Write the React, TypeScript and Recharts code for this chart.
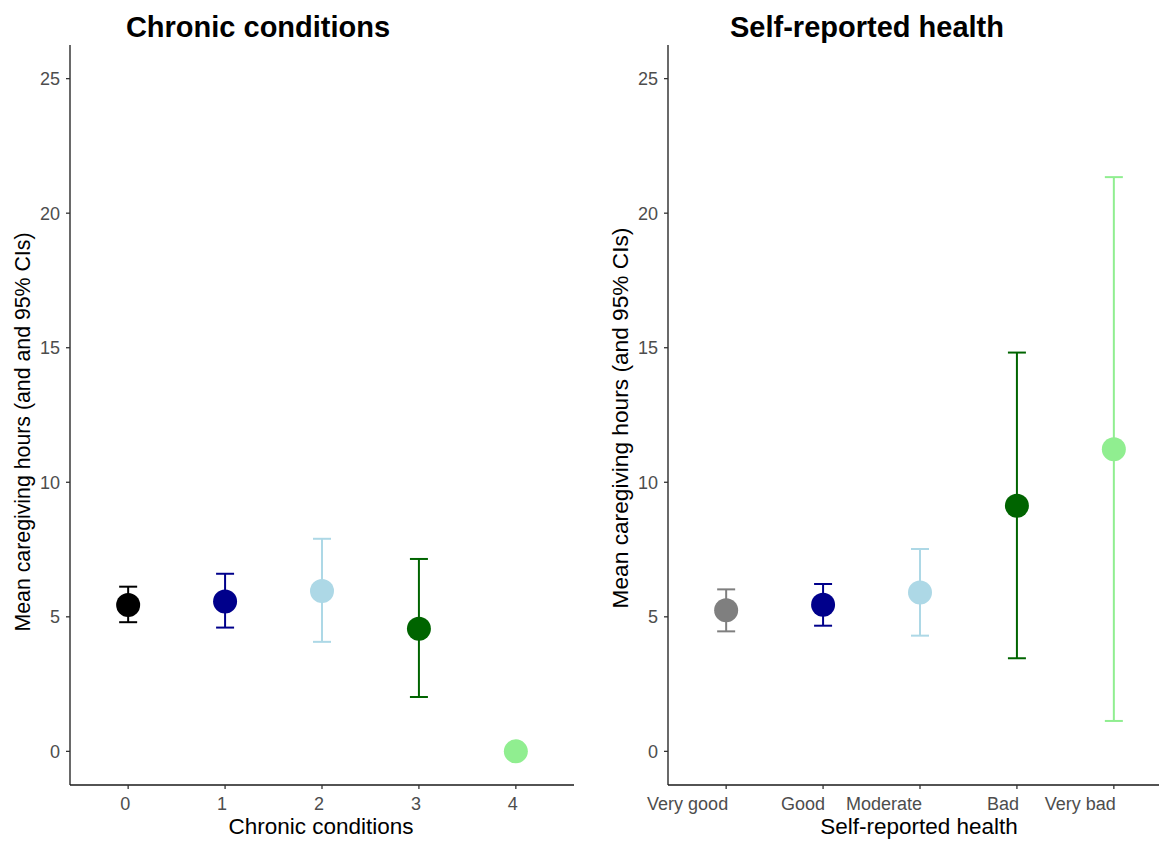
import React from 'react';
import { ScatterChart, Scatter, XAxis, YAxis, ErrorBar } from 'recharts';

const FONT = '"Liberation Sans", Arial, Helvetica, sans-serif';

// Left panel: chronic conditions
const chronicCategories = ['0', '1', '2', '3', '4'];
const chronicMeans = [5.44, 5.57, 5.96, 4.56, 0];
const chronicLower = [4.8, 4.6, 4.07, 2.02, 0];
const chronicUpper = [6.12, 6.6, 7.9, 7.15, 0];
const chronicColors = ['#000000', '#00008B', '#ADD8E6', '#006400', '#90EE90'];

// Right panel: self-reported health
const healthCategories = ['Very good', 'Good', 'Moderate', 'Bad', 'Very bad'];
const healthMeans = [5.24, 5.45, 5.9, 9.13, 11.23];
const healthLower = [4.46, 4.67, 4.3, 3.46, 1.13];
const healthUpper = [6.02, 6.22, 7.52, 14.82, 21.34];
const healthColors = ['#7F7F7F', '#00008B', '#ADD8E6', '#006400', '#90EE90'];

const yTicks = [0, 5, 10, 15, 20, 25];
const xTicks = [0, 1, 2, 3, 4];

type PanelProps = {
  cats: string[];
  means: number[];
  lower: number[];
  upper: number[];
  colors: string[];
  xTitle: string;
  yTitle: string;
  yTitleCenter: number;
  yTitleSize: number;
};

function Panel({ cats, means, lower, upper, colors, xTitle, yTitle, yTitleCenter, yTitleSize }: PanelProps) {
  const series = cats.map((c, i) => ({
    name: c,
    color: colors[i],
    hasCI: upper[i] - lower[i] > 0,
    data: [{ x: i, y: means[i], err: [means[i] - lower[i], upper[i] - means[i]] }],
  }));
  return (
    <ScatterChart width={580} height={841} margin={{ top: 45, right: 6, bottom: 0, left: 0 }}>
      <XAxis
        type="number"
        dataKey="x"
        domain={[-0.6, 4.6]}
        ticks={xTicks}
        interval={0}
        height={56}
        tickSize={4}
        axisLine={{ stroke: '#1a1a1a', strokeWidth: 1.3 }}
        tickLine={{ stroke: '#333333', strokeWidth: 1.3 }}
        tick={(p: any) => (
          <text x={p.x + 2} y={p.y} dy={19} textAnchor="end" fill="#4D4D4D" fontSize={18} fontFamily={FONT}>
            {cats[p.payload.value]}
          </text>
        )}
        label={() => (
          <text x={321} y={834} textAnchor="middle" fill="#000" fontSize={22.5} fontFamily={FONT}>
            {xTitle}
          </text>
        )}
      />
      <YAxis
        type="number"
        dataKey="y"
        domain={[-1.25, 26.25]}
        ticks={yTicks}
        allowDataOverflow
        width={70}
        tickSize={4}
        tickMargin={6}
        axisLine={{ stroke: '#1a1a1a', strokeWidth: 1.3 }}
        tickLine={{ stroke: '#333333', strokeWidth: 1.3 }}
        tick={{ fill: '#4D4D4D', fontSize: 18, fontFamily: FONT }}
        label={() => (
          <text
            x={0}
            y={0}
            transform={`translate(30, ${yTitleCenter}) rotate(-90)`}
            textAnchor="middle"
            fill="#000"
            fontSize={yTitleSize}
            fontFamily={FONT}
          >
            {yTitle}
          </text>
        )}
      />
      {series.map((s) => (
        <Scatter
          key={s.name}
          name={s.name}
          data={s.data}
          fill={s.color}
          isAnimationActive={false}
          shape={(p: any) => <circle cx={p.cx} cy={p.cy} r={12} fill={s.color} />}
        >
          {s.hasCI && (
            <ErrorBar dataKey="err" direction="y" width={9} stroke={s.color} strokeWidth={2} />
          )}
        </Scatter>
      ))}
    </ScatterChart>
  );
}

export default function App() {
  return (
    <div
      style={{
        position: 'absolute',
        left: 0,
        top: 0,
        width: 1159,
        height: 841,
        overflow: 'hidden',
        background: '#fff',
        fontFamily: FONT,
      }}
    >
      <div style={{ position: 'absolute', left: 0, top: 0, width: 580, height: 841 }}>
        <Panel
          cats={chronicCategories}
          means={chronicMeans}
          lower={chronicLower}
          upper={chronicUpper}
          colors={chronicColors}
          xTitle="Chronic conditions"
          yTitle="Mean caregiving hours (and and 95% CIs)"
          yTitleCenter={432}
          yTitleSize={21.3}
        />
      </div>
      <div style={{ position: 'absolute', left: 598, top: 0, width: 580, height: 841 }}>
        <Panel
          cats={healthCategories}
          means={healthMeans}
          lower={healthLower}
          upper={healthUpper}
          colors={healthColors}
          xTitle="Self-reported health"
          yTitle="Mean caregiving hours (and 95% CIs)"
          yTitleCenter={418}
          yTitleSize={22.7}
        />
      </div>
      <svg width={1159} height={60} style={{ position: 'absolute', left: 0, top: 0 }}>
        <text x={258} y={37} textAnchor="middle" fontSize={29} fontWeight="bold" fontFamily={FONT} fill="#000">
          Chronic conditions
        </text>
        <text x={867} y={37} textAnchor="middle" fontSize={29} fontWeight="bold" fontFamily={FONT} fill="#000">
          Self-reported health
        </text>
      </svg>
    </div>
  );
}
